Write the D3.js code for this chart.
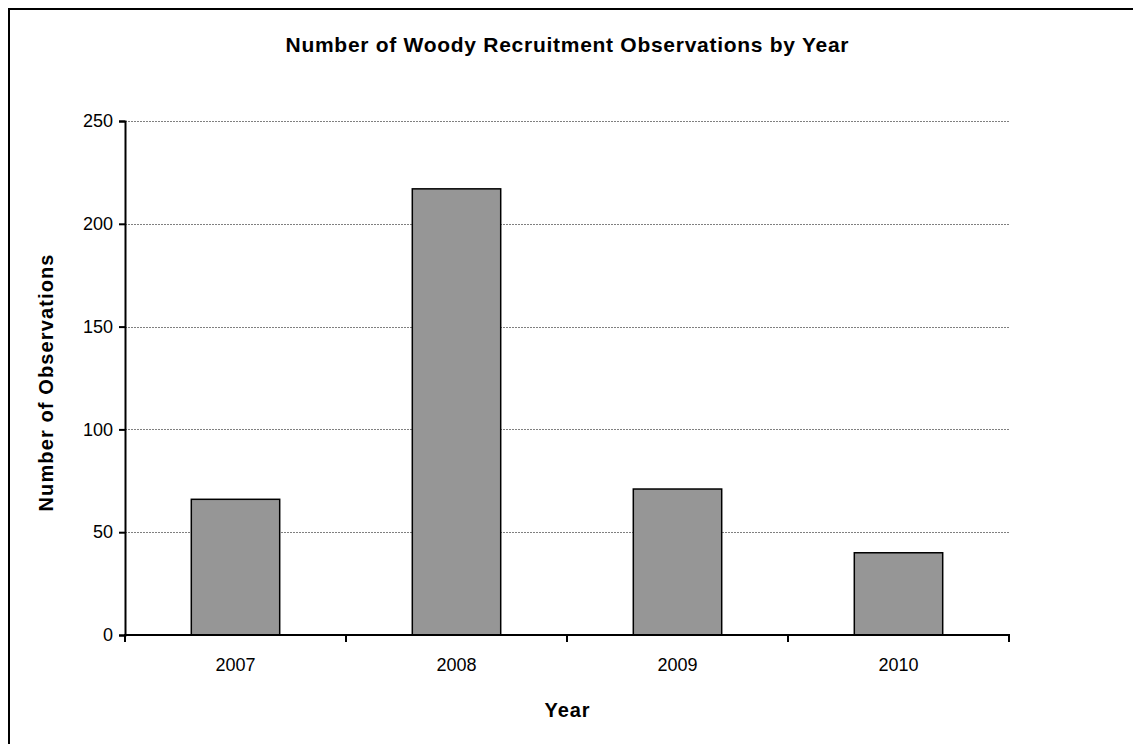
<!DOCTYPE html>
<html>
<head>
<meta charset="utf-8">
<script src="https://cdn.jsdelivr.net/npm/d3@7"></script>
<style>
  body { margin: 0; background: #fff; }
  svg text { font-family: "Liberation Sans", Arial, sans-serif; fill: #000; }
</style>
</head>
<body>
<script>
// data
var years = ["2007", "2008", "2009", "2010"];
var counts = [66, 217, 71, 40];
var yTicks = [0, 50, 100, 150, 200, 250];

var w = 1133, h = 744;
var plotLeft = 125, plotRight = 1009, plotTop = 121, plotBottom = 635;

var svg = d3.select("body").append("svg")
  .attr("width", w)
  .attr("height", h);

// outer frame
svg.append("rect")
  .attr("x", 9).attr("y", 9)
  .attr("width", w + 20).attr("height", h + 20)
  .attr("fill", "none")
  .attr("stroke", "#000")
  .attr("stroke-width", 2);

var xScale = d3.scaleBand()
  .domain(years)
  .range([plotLeft, plotRight])
  .paddingInner(0.6)
  .paddingOuter(0.3);

var yScale = d3.scaleLinear()
  .domain([0, 250])
  .range([plotBottom, plotTop]);

// gridlines
svg.append("g")
  .selectAll("line")
  .data(yTicks.slice(1))
  .enter()
  .append("line")
  .attr("x1", plotLeft).attr("x2", plotRight)
  .attr("y1", function (d) { return Math.round(yScale(d)) + 0.5; })
  .attr("y2", function (d) { return Math.round(yScale(d)) + 0.5; })
  .attr("stroke", "#808080")
  .attr("stroke-width", 1)
  .attr("stroke-dasharray", "2,1");

// bars
svg.append("g")
  .selectAll("rect")
  .data(years)
  .enter()
  .append("rect")
  .attr("x", function (d) { return xScale(d); })
  .attr("y", function (d, i) { return yScale(counts[i]); })
  .attr("width", xScale.bandwidth())
  .attr("height", function (d, i) { return plotBottom - yScale(counts[i]); })
  .attr("fill", "#969696")
  .attr("stroke", "#000")
  .attr("stroke-width", 1.5);

// y axis
var yAxis = d3.axisLeft(yScale).tickValues(yTicks).tickSize(6).tickPadding(6);
var gy = svg.append("g")
  .attr("transform", "translate(" + plotLeft + ",0)")
  .call(yAxis);
gy.select(".domain").attr("stroke-width", 2);
gy.selectAll(".tick line").attr("stroke-width", 2);
gy.selectAll("text")
  .style("font-size", "18px")
  .style("font-family", "'Liberation Sans', Arial, sans-serif");

// x axis: ticks at category boundaries
var gx = svg.append("g")
  .attr("transform", "translate(0," + plotBottom + ")");
gx.append("line")
  .attr("x1", plotLeft - 1).attr("x2", plotRight + 1)
  .attr("stroke", "#000").attr("stroke-width", 2);
var step = (plotRight - plotLeft) / years.length;
gx.selectAll(".xt")
  .data(d3.range(years.length + 1))
  .enter()
  .append("line")
  .attr("class", "xt")
  .attr("x1", function (i) { return plotLeft + i * step; })
  .attr("x2", function (i) { return plotLeft + i * step; })
  .attr("y1", 0).attr("y2", 7)
  .attr("stroke", "#000").attr("stroke-width", 2);
gx.selectAll("text")
  .data(years)
  .enter()
  .append("text")
  .attr("x", function (d) { return xScale(d) + xScale.bandwidth() / 2; })
  .attr("y", 36)
  .attr("text-anchor", "middle")
  .style("font-size", "18px")
  .text(function (d) { return d; });

// titles
svg.append("text")
  .attr("x", 567).attr("y", 52)
  .attr("text-anchor", "middle")
  .attr("textLength", 563)
  .attr("lengthAdjust", "spacing")
  .style("font-size", "21px")
  .style("font-weight", "bold")
  .text("Number of Woody Recruitment Observations by Year");

svg.append("text")
  .attr("x", 567).attr("y", 717)
  .attr("text-anchor", "middle")
  .attr("textLength", 45)
  .attr("lengthAdjust", "spacing")
  .style("font-size", "20px")
  .style("font-weight", "bold")
  .text("Year");

svg.append("text")
  .attr("transform", "translate(53,383) rotate(-90)")
  .attr("text-anchor", "middle")
  .attr("textLength", 257)
  .attr("lengthAdjust", "spacing")
  .style("font-size", "20px")
  .style("font-weight", "bold")
  .text("Number of Observations");
</script>
</body>
</html>
